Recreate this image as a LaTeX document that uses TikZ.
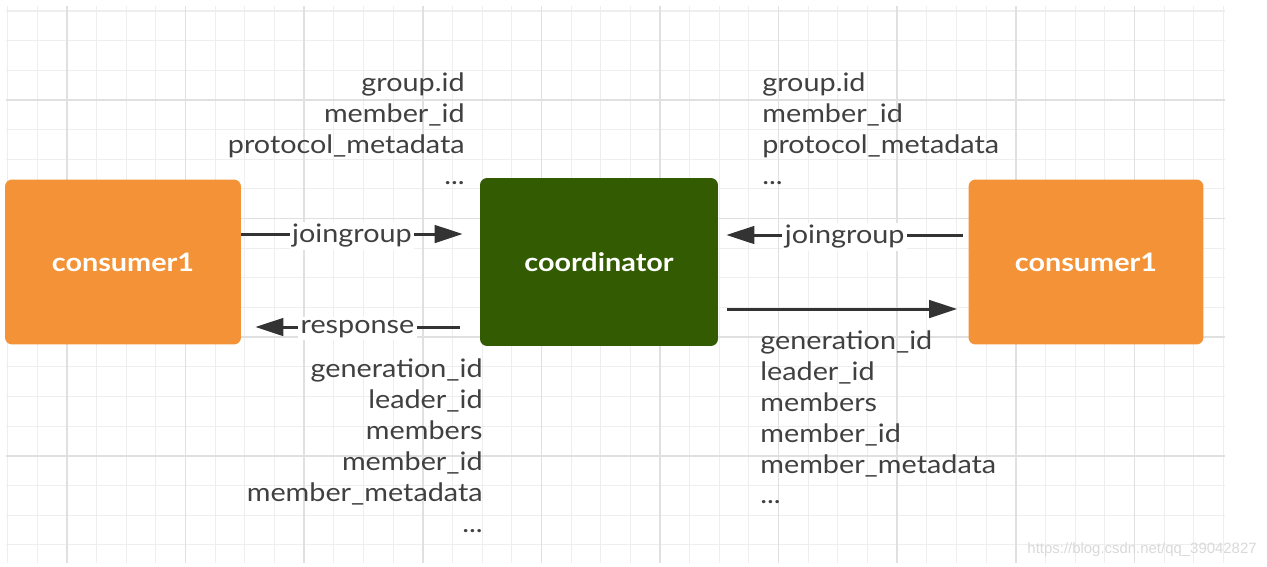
\documentclass[tikz,border=0pt]{standalone}
\usepackage{fontspec}
\setmainfont{Lato}[FakeStretch=1.13]
\newfontfamily\markfont{Liberation Sans}
\usepackage{xcolor}
\usepackage{tikz}
\usetikzlibrary{arrows.meta}
\usetikzlibrary{calc,positioning}

\definecolor{boxorange}{HTML}{F39237}
\definecolor{boxgreen}{HTML}{335C02}
\definecolor{arrowgray}{HTML}{333333}
\definecolor{textgray}{HTML}{404040}
\definecolor{gridlight}{HTML}{EEEEEE}
\definecolor{griddark}{HTML}{E0E0E0}

\newcommand{\moredots}{...}

\begin{document}
\begin{tikzpicture}[x=0.02cm, y=-0.02cm,
    box/.style={rounded corners=4pt, minimum width=4.72cm, minimum height=3.3cm,
        text=white, font=\fontsize{14.5}{16}\selectfont\bfseries},
    flow/.style={draw=arrowgray, line width=1.7pt, -{Triangle[length=16pt,width=10pt]}},
    field/.style={text=textgray, inner sep=0pt, font=\fontsize{14.5}{16}\selectfont},
    tag/.style={field, fill=white, inner sep=1.5pt},
    gridminor/.style={draw=gridlight, line width=0.6pt},
    gridmajor/.style={draw=griddark, line width=0.9pt}]

    \useasboundingbox (0,0) rectangle (1267,566);

    % Grid
    \foreach \i in {0,...,41}
        \draw[gridminor] ({7.7+29.65*\i},6) -- ({7.7+29.65*\i},563);
    \foreach \j in {0,...,18}
        \draw[gridminor] (6,{11+29.65*\j}) -- (1225,{11+29.65*\j});
    \foreach \i in {2,6,...,38}
        \draw[gridmajor] ({7.7+29.65*\i},6) -- ({7.7+29.65*\i},563);
    \foreach \j in {3,7,11,15}
        \draw[gridmajor] (6,{11+29.65*\j}) -- (1225,{11+29.65*\j});

    % Boxes
    \node[box, fill=boxorange] (c1) at (123,262) {consumer1};
    \node[box, fill=boxgreen, minimum width=4.76cm, minimum height=3.36cm] (co) at (599,262) {coordinator};
    \node[box, fill=boxorange, minimum width=4.7cm] (c2) at (1086,262) {consumer1};

    % Requests
    \draw[flow] ([shift={(0,-28)}]c1.east) -- ([shift={(-17,-28)}]co.west)
        node[tag, midway, yshift=-1pt] (jl) {joingroup};
    \draw[flow] ([shift={(-5,-27)}]c2.west) -- ([shift={(8,-27)}]co.east)
        node[tag, midway, yshift=-1pt] (jr) {joingroup};

    % Responses
    \draw[flow] ([shift={(-20,65)}]co.west) -- ([shift={(14,65)}]c1.east)
        node[tag, midway, yshift=-1pt] (rl) {response};
    \draw[flow] ([shift={(9,47)}]co.east) -- ([shift={(-11,47)}]c2.west);

    % Request fields
    \foreach \t [count=\i] in {group.id, member\_id, protocol\_metadata, \moredots} {
        \node[field, anchor=base east] (ql\i) at (465,{60+31*\i}) {\t};
        \node[field, anchor=base west] (qr\i) at (762,{60+31*\i}) {\t};
    }

    % Response fields
    \foreach \t [count=\i] in {generation\_id, leader\_id, members, member\_id, member\_metadata, \moredots} {
        \node[field, anchor=base east] (pl\i) at (483,{346+31*\i}) {\t};
        \node[field, anchor=base west] (pr\i) at (760,{319+30.8*\i}) {\t};
    }

    \node[anchor=base east, inner sep=0pt, text=gray!30, font=\markfont\fontsize{8.5}{10}\selectfont]
        (wm) at (1257,553) {https://blog.csdn.net/qq\_39042827};

\end{tikzpicture}
\end{document}
